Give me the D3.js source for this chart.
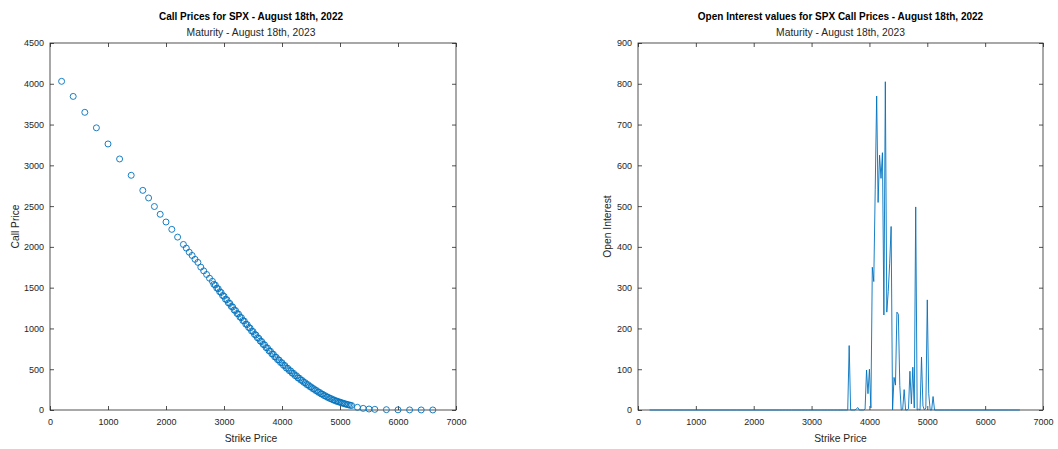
<!DOCTYPE html>
<html>
<head>
<meta charset="utf-8">
<script src="https://cdn.jsdelivr.net/npm/d3@7"></script>
<style>
  html, body { margin: 0; padding: 0; background: #fff; }
  svg { display: block; font-family: "Liberation Sans", Arial, Helvetica, sans-serif; }
</style>
</head>
<body>
<svg id="chart" width="1058" height="449"></svg>
<script>
// ---- data ----
const strikes = [200,400,600,800,1000,1200,1400,1600,1700,1800,1900,2000,2100,2200,2300,2350,2400,2450,2500,2550,
  2600,2650,2700,2750,
  2800,2825,2850,2875,2900,2925,2950,2975,
  3000,3025,3050,3075,3100,3125,3150,3175,
  3200,3225,3250,3275,3300,3325,3350,3375,
  3400,3425,3450,3475,3500,3525,3550,3575,
  3600,3625,3650,3675,3700,3725,3750,3775,
  3800,3825,3850,3875,3900,3925,3950,3975,
  4000,4025,4050,4075,4100,4125,4150,4175,
  4200,4225,4250,4275,4300,4325,4350,4375,
  4400,4425,4450,4475,4500,4525,4550,4575,
  4600,4625,4650,4675,4700,4725,4750,4775,
  4800,4825,4850,4875,4900,4925,4950,4975,
  5000,5025,5050,5075,5100,5125,5150,5175,
  5200,5300,5400,5500,5600,5800,6000,6200,6400,6600];

const callPrices = [4030,3845,3650,3460,3262,3078,2878,2693,2600,2495,2400,2305,2215,2120,2030,1985,1935,1895,1848,1810,
  1752,1706,1662,1616,
  1578,1541,1532,1495,1486,1450,1441,1404,
  1395,1358,1352,1314,1307,1270,1263,1226,
  1219,1183,1176,1139,1132,1097,1090,1053,
  1047,1012,1004,969,962,927,920,886,
  879,845,839,805,799,765,760,726,
  721,688,684,651,647,616,613,582,
  579,548,545,514,511,483,480,452,
  449,422,420,393,390,366,362,339,
  335,312,310,288,284,264,260,241,
  237,218,215,197,194,177,174,158,
  155,141,139,125,123,110,109,99,
  97,87,85,76,74,66,64,58,
  55,33,20,12,8,4,2,1,0.6,0.4];

const openInterest = [0,0,0,0,0,0,0,0,0,0,0,0,0,0,0,0,0,0,0,0,
  0,0,0,0,
  0,0,0,0,0,0,0,0,
  0,0,0,0,0,0,0,0,
  0,0,0,0,0,0,0,0,
  0,0,0,0,0,0,0,0,
  0,0,158,0,0,0,0,3,
  6,0,0,0,0,2,98,40,
  100,5,350,315,540,770,509,625,
  568,631,233,805,240,290,360,450,
  0,80,61,240,235,60,0,2,
  50,0,0,3,95,15,105,5,
  498,0,2,0,130,10,0,5,
  270,40,0,0,33,0,0,0,
  0,0,0,0,0,0,0,0,0,0];

const xTicks = [0,1000,2000,3000,4000,5000,6000,7000];
const leftYTicks = [0,500,1000,1500,2000,2500,3000,3500,4000,4500];
const rightYTicks = [0,100,200,300,400,500,600,700,800,900];

const leftTitle = "Call Prices for SPX - August 18th, 2022";
const rightTitle = "Open Interest values for SPX Call Prices - August 18th, 2022";
const subTitle = "Maturity - August 18th, 2023";
const xLabel = "Strike Price";
const leftYLabel = "Call Price";
const rightYLabel = "Open Interest";

// ---- drawing ----
const svg = d3.select("#chart");
const AX = "#262626";
const BLUE = "#0072BD";

function panel(cfg) {
  const x = d3.scaleLinear().domain([0, 7000]).range([cfg.x0, cfg.x1]);
  const y = d3.scaleLinear().domain([0, cfg.ymax]).range([cfg.y1, cfg.y0]);
  const g = svg.append("g");

  const style = sel => {
    sel.select(".domain").remove();
    sel.selectAll(".tick line").attr("stroke", AX).attr("stroke-width", 0.8);
    sel.selectAll(".tick text").attr("fill", AX).style("font-size", "9px");
  };

  g.append("g").attr("transform", `translate(0,${cfg.y1})`)
    .call(d3.axisBottom(x).tickValues(xTicks).tickSizeInner(-4).tickSizeOuter(0).tickPadding(9).tickFormat(d3.format("d")))
    .call(style).attr("font-family", null);
  g.append("g").attr("transform", `translate(0,${cfg.y0})`)
    .call(d3.axisTop(x).tickValues(xTicks).tickSizeInner(-4).tickSizeOuter(0).tickFormat(""))
    .call(style);
  g.append("g").attr("transform", `translate(${cfg.x0},0)`)
    .call(d3.axisLeft(y).tickValues(cfg.yTicks).tickSizeInner(-4).tickSizeOuter(0).tickPadding(6).tickFormat(d3.format("d")))
    .call(style).attr("font-family", null);
  g.append("g").attr("transform", `translate(${cfg.x1},0)`)
    .call(d3.axisRight(y).tickValues(cfg.yTicks).tickSizeInner(-4).tickSizeOuter(0).tickFormat(""))
    .call(style);

  g.append("rect")
    .attr("x", cfg.x0).attr("y", cfg.y0)
    .attr("width", cfg.x1 - cfg.x0).attr("height", cfg.y1 - cfg.y0)
    .attr("fill", "none").attr("stroke", AX).attr("stroke-width", 0.8);

  const cx = cfg.tx;
  g.append("text").attr("x", cx).attr("y", 19.5).attr("text-anchor", "middle")
    .style("font-size", "10px").style("font-weight", "bold").attr("fill", "#000").text(cfg.title);
  g.append("text").attr("x", cx).attr("y", 36).attr("text-anchor", "middle")
    .style("font-size", "10.3px").attr("fill", AX).text(subTitle);
  g.append("text").attr("x", cx).attr("y", 442).attr("text-anchor", "middle")
    .style("font-size", "10.3px").attr("fill", AX).text(xLabel);
  g.append("text").attr("transform", `translate(${cfg.ylabX},${(cfg.y0 + cfg.y1) / 2}) rotate(-90)`)
    .attr("text-anchor", "middle").style("font-size", "10.3px").attr("fill", AX).text(cfg.ylabel);

  return { x, y, g };
}

// Left: scatter of call prices
const L = panel({ x0: 50, x1: 456, y0: 43, y1: 410, ymax: 4500, yTicks: leftYTicks,
  title: leftTitle, ylabel: leftYLabel, ylabX: 19, tx: 251 });
L.g.append("g").selectAll("circle")
  .data(strikes.map((s, i) => [s, callPrices[i]]))
  .join("circle")
  .attr("cx", d => L.x(d[0]))
  .attr("cy", d => L.y(d[1]))
  .attr("r", 3)
  .attr("fill", "none")
  .attr("stroke", BLUE)
  .attr("stroke-width", 0.9);

// Right: line of open interest
const R = panel({ x0: 638, x1: 1043, y0: 43, y1: 410, ymax: 900, yTicks: rightYTicks,
  title: rightTitle, ylabel: rightYLabel, ylabX: 611, tx: 840.5 });
R.g.append("path")
  .datum(strikes.map((s, i) => [s, openInterest[i]]))
  .attr("fill", "none")
  .attr("stroke", BLUE)
  .attr("stroke-width", 0.9)
  .attr("stroke-linejoin", "round")
  .attr("d", d3.line().x(d => R.x(d[0])).y(d => R.y(d[1])));
</script>
</body>
</html>
